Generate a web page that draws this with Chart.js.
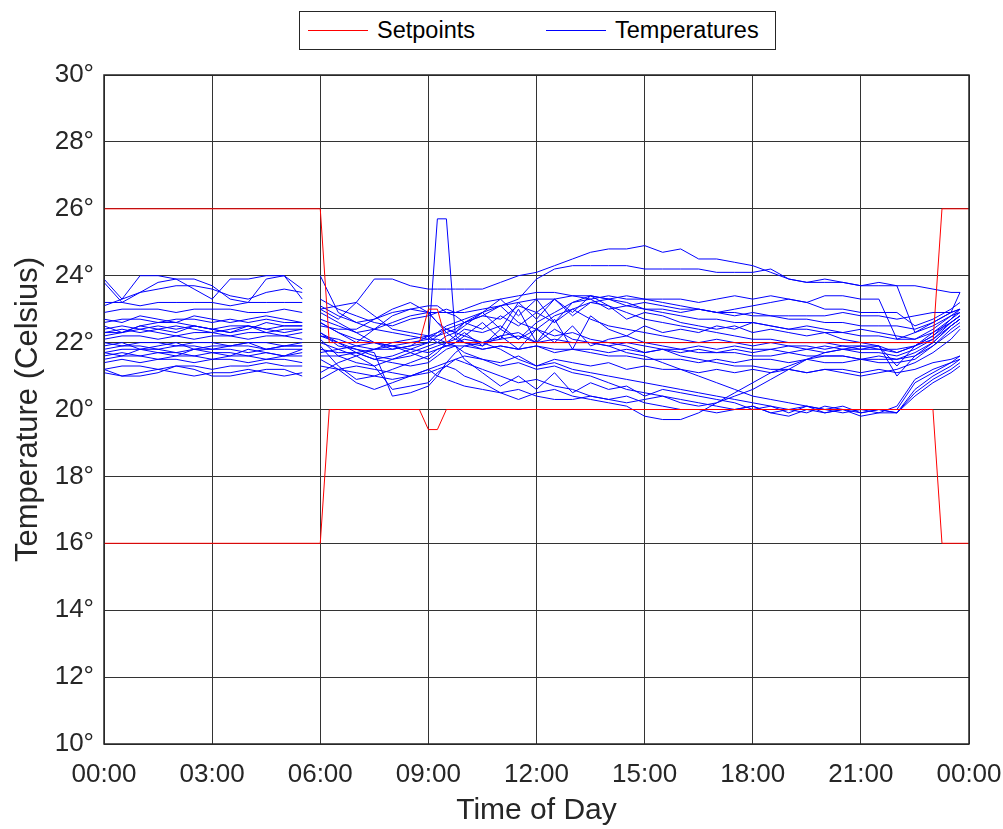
<!DOCTYPE html>
<html>
<head>
<meta charset="utf-8">
<script src="https://cdn.jsdelivr.net/npm/chart.js@4/dist/chart.umd.min.js"></script>
<style>
  body { margin: 0; background: #fff; }
  #wrap { position: relative; width: 1003px; height: 829px; }
  #legend {
    position: absolute; left: 299px; top: 11px; width: 475px; height: 37px;
    border: 1px solid #262626; background: #fff;
    font-family: "Liberation Sans", Arial, sans-serif; font-size: 23.5px; color: #000;
  }
  #legend .line { position: absolute; top: 18px; width: 60px; height: 1px; }
  #legend .txt { position: absolute; top: 5px; line-height: 27px; }
</style>
</head>
<body>
<div id="wrap">
  <canvas id="chart" width="1003" height="829"></canvas>
  <div id="legend">
    <div class="line" style="left: 8px; background: #ff0000;"></div>
    <div class="txt" style="left: 77px;">Setpoints</div>
    <div class="line" style="left: 246px; background: #0000ff;"></div>
    <div class="txt" style="left: 315px;">Temperatures</div>
  </div>
</div>
<script>
// hours of the day for the logged temperatures (night block, then day block)
const nightHours = [0, 0.5, 1, 1.5, 2, 2.5, 3, 3.5, 4, 4.5, 5, 5.5];
const dayHours = [6, 6.5, 7, 7.5, 8, 8.5, 9, 9.25, 9.5, 9.75, 10, 10.5, 11, 11.5, 12, 12.5, 13, 13.5,
  14, 14.5, 15, 15.5, 16, 16.5, 17, 17.5, 18, 18.5, 19, 19.5, 20, 20.5, 21, 21.5, 22, 22.5, 23, 23.5, 23.75];

// setpoints
const setpointHours = [0, 6, 6.25, 8.75, 9, 9.25, 9.5, 23, 23.25, 24];
const setpointUpper = [26, 26, 22, 22, 23, 23, 22, 22, 26, 26];
const setpointLower = [16, 16, 20, 20, 19.4, 19.4, 20, 20, 16, 16];

const hourTicks = [0, 3, 6, 9, 12, 15, 18, 21, 24];
const tempTicks = [10, 12, 14, 16, 18, 20, 22, 24, 26, 28, 30];

// zone temperatures: 12 night values, then 39 day values
const temp01 = [23.9, 23.3, 24.0, 24.0, 23.9, 23.6, 23.3, 23.9, 23.9, 24.0, 24.0, 23.3,
  23.0, 22.7, 23.2, 23.9, 23.9, 23.7, 23.6, 23.6, 23.6, 23.6, 23.6, 23.6, 23.8, 24.0, 24.1, 24.3, 24.5, 24.7, 24.8, 24.8, 24.9, 24.7, 24.8, 24.5, 24.5, 24.4, 24.3, 24.1, 23.9, 23.8, 23.9, 23.8, 23.7, 23.8, 23.7, 22.3, 22.6, 22.9, 23.5];
const temp02 = [23.8, 23.2, 23.5, 23.8, 23.9, 23.9, 23.7, 23.3, 23.2, 23.9, 24.0, 23.6,
  22.6, 22.3, 22.0, 22.4, 22.6, 22.8, 22.9, 22.9, 22.9, 22.9, 22.9, 23.0, 23.1, 23.3, 23.9, 24.2, 24.3, 24.3, 24.3, 24.3, 24.2, 24.2, 24.2, 24.2, 24.1, 24.1, 24.1, 24.2, 23.9, 23.8, 23.8, 23.8, 23.7, 23.7, 23.7, 23.7, 23.6, 23.5, 23.5];
const temp03 = [23.1, 23.3, 23.5, 23.6, 23.7, 23.7, 23.6, 23.4, 23.3, 23.5, 23.6, 23.5,
  23.3, 23.0, 22.8, 22.6, 22.5, 22.7, 22.8, 22.9, 23.0, 22.9, 23.0, 23.2, 23.3, 23.4, 23.5, 23.5, 23.4, 23.4, 23.3, 23.4, 23.3, 23.3, 23.3, 23.2, 23.3, 23.4, 23.3, 23.4, 23.3, 23.2, 23.0, 23.0, 22.9, 22.9, 22.9, 22.5, 22.7, 23.0, 23.2];
const temp04 = [23.2, 23.2, 23.1, 23.2, 23.2, 23.2, 23.2, 23.1, 23.2, 23.2, 23.2, 23.2,
  24.0, 22.9, 22.6, 22.4, 22.3, 22.2, 22.1, 22.3, 22.5, 22.6, 22.7, 22.9, 23.1, 23.2, 23.3, 23.3, 23.4, 23.3, 23.4, 23.3, 23.3, 23.2, 23.1, 23.0, 22.9, 22.9, 22.8, 22.8, 22.7, 22.7, 22.6, 22.6, 22.5, 22.5, 22.5, 22.4, 22.6, 22.9, 23.0];
const temp05 = [22.9, 23.0, 23.0, 23.0, 22.9, 23.0, 23.0, 23.0, 22.9, 22.9, 23.0, 22.9,
  23.0, 23.1, 23.2, 22.8, 22.4, 22.3, 22.2, 22.2, 22.3, 22.4, 22.6, 22.8, 22.7, 23.1, 22.9, 23.3, 22.8, 23.2, 23.3, 23.1, 23.0, 23.0, 22.9, 23.0, 22.9, 22.8, 22.9, 22.8, 22.8, 22.8, 22.8, 22.9, 22.8, 22.8, 22.7, 22.8, 22.9, 22.9, 23.0];
const temp06 = [22.6, 22.7, 22.7, 22.6, 22.7, 22.7, 22.6, 22.7, 22.6, 22.7, 22.6, 22.6,
  22.7, 22.5, 22.3, 22.0, 21.8, 21.9, 22.2, 22.0, 21.9, 22.0, 22.2, 22.6, 22.1, 23.0, 22.0, 22.7, 21.8, 22.8, 22.4, 22.2, 22.5, 22.3, 22.4, 22.3, 22.5, 22.4, 22.6, 22.5, 22.4, 22.5, 22.4, 22.3, 22.4, 22.3, 22.2, 22.1, 22.4, 22.8, 22.9];
const temp07 = [22.4, 22.5, 22.4, 22.5, 22.4, 22.5, 22.4, 22.5, 22.5, 22.4, 22.5, 22.5,
  22.5, 22.4, 22.4, 22.7, 23.0, 23.2, 22.9, 22.6, 22.3, 22.1, 22.0, 21.9, 22.4, 22.1, 22.6, 22.9, 23.2, 23.4, 23.3, 23.2, 23.0, 22.9, 22.8, 22.7, 22.7, 22.6, 22.6, 22.5, 22.4, 22.4, 22.3, 22.3, 22.2, 22.2, 22.1, 22.1, 22.3, 22.6, 22.8];
const temp08 = [22.3, 22.4, 22.3, 22.4, 22.5, 22.4, 22.3, 22.4, 22.5, 22.3, 22.4, 22.4,
  22.3, 22.0, 21.7, 21.5, 21.6, 21.8, 22.0, 22.2, 22.4, 22.5, 22.6, 22.4, 22.8, 22.5, 22.9, 22.6, 23.0, 22.7, 22.5, 22.4, 22.3, 22.2, 22.1, 22.0, 22.1, 22.0, 21.9, 22.0, 21.9, 21.9, 21.8, 21.9, 21.8, 21.8, 21.8, 21.9, 22.1, 22.5, 22.7];
const temp09 = [22.3, 22.3, 22.4, 22.3, 22.2, 22.3, 22.3, 22.2, 22.3, 22.3, 22.2, 22.3,
  22.2, 22.1, 21.9, 21.8, 21.8, 21.9, 22.0, 25.7, 25.7, 22.2, 22.0, 21.8, 21.9, 21.8, 21.9, 21.7, 21.8, 21.7, 21.6, 21.6, 21.5, 21.5, 21.5, 21.4, 21.5, 21.4, 21.5, 21.5, 21.4, 21.5, 21.4, 21.4, 21.5, 21.4, 21.4, 21.5, 21.9, 22.4, 22.6];
const temp10 = [22.1, 22.2, 22.2, 22.1, 22.2, 22.1, 22.2, 22.2, 22.1, 22.2, 22.2, 22.1,
  22.1, 21.6, 21.4, 21.3, 21.5, 21.7, 21.9, 22.0, 22.2, 22.3, 22.6, 22.9, 22.4, 23.2, 22.7, 23.3, 22.9, 23.4, 23.1, 22.7, 22.9, 22.8, 22.6, 22.5, 22.4, 22.5, 22.3, 22.4, 22.3, 22.2, 22.3, 22.1, 22.0, 21.9, 21.0, 21.6, 22.0, 22.5, 22.7];
const temp11 = [22.0, 21.9, 22.0, 22.0, 21.9, 22.0, 22.0, 21.9, 22.0, 22.0, 21.9, 22.0,
  22.3, 21.9, 21.8, 21.7, 20.4, 20.5, 20.7, 21.0, 21.4, 21.7, 21.9, 22.0, 22.1, 22.2, 22.0, 22.1, 22.0, 22.0, 21.9, 22.0, 21.9, 21.8, 21.8, 21.7, 21.7, 21.7, 21.6, 21.6, 21.7, 21.6, 21.6, 21.6, 21.5, 21.5, 21.5, 21.6, 21.9, 22.3, 22.5];
const temp12 = [21.8, 21.9, 21.9, 21.8, 21.9, 21.9, 21.8, 21.9, 21.9, 21.8, 21.9, 21.9,
  22.0, 21.8, 21.6, 21.3, 20.6, 20.7, 20.8, 21.1, 21.3, 21.5, 21.6, 21.5, 21.4, 21.6, 21.3, 21.5, 21.4, 21.3, 21.4, 21.2, 21.3, 21.2, 21.2, 21.1, 21.2, 21.1, 21.2, 21.1, 21.2, 21.1, 21.2, 21.2, 21.1, 21.2, 21.1, 21.2, 21.4, 21.5, 21.6];
const temp13 = [21.7, 21.8, 21.8, 21.8, 21.7, 21.8, 21.8, 21.8, 21.7, 21.8, 21.8, 21.8,
  21.8, 21.7, 21.7, 21.8, 21.9, 22.0, 22.1, 22.1, 22.0, 21.9, 21.9, 21.8, 21.9, 21.8, 21.9, 21.8, 21.8, 21.8, 21.7, 21.8, 21.7, 21.8, 21.7, 21.8, 21.7, 21.8, 21.7, 21.8, 21.7, 21.8, 21.7, 21.8, 21.7, 21.7, 21.6, 21.8, 22.1, 22.6, 22.8];
const temp14 = [21.6, 21.7, 21.6, 21.7, 21.7, 21.6, 21.7, 21.7, 21.6, 21.7, 21.6, 21.7,
  21.7, 21.8, 21.9, 22.0, 21.9, 21.8, 21.7, 21.8, 21.9, 22.0, 22.1, 22.0, 22.2, 22.3, 22.0, 22.4, 22.1, 22.0, 21.9, 21.7, 21.6, 21.4, 21.2, 21.0, 20.8, 20.6, 20.4, 20.3, 20.2, 20.1, 20.0, 20.1, 19.9, 20.0, 19.9, 20.6, 21.0, 21.3, 21.5];
const temp15 = [21.5, 21.6, 21.6, 21.5, 21.6, 21.6, 21.5, 21.6, 21.6, 21.5, 21.6, 21.6,
  21.6, 21.6, 21.7, 21.5, 21.4, 21.3, 21.4, 21.6, 21.8, 21.9, 21.7, 21.5, 21.3, 21.4, 21.2, 21.3, 21.1, 21.0, 20.8, 20.6, 20.5, 20.4, 20.3, 20.2, 20.1, 20.0, 20.1, 19.9, 20.0, 19.9, 20.1, 20.0, 19.9, 20.0, 19.9, 20.5, 20.9, 21.2, 21.4];
const temp16 = [21.4, 21.5, 21.4, 21.5, 21.5, 21.4, 21.5, 21.5, 21.4, 21.5, 21.5, 21.4,
  21.5, 21.2, 20.8, 20.6, 20.8, 21.0, 21.1, 21.2, 21.3, 21.2, 21.0, 20.8, 20.5, 20.3, 20.5, 20.6, 20.4, 20.3, 20.2, 20.1, 19.8, 19.7, 19.7, 19.9, 20.2, 20.5, 20.8, 21.1, 21.3, 21.5, 21.6, 21.6, 21.5, 21.6, 21.5, 21.7, 22.0, 22.5, 22.7];
const temp17 = [21.2, 21.3, 21.3, 21.2, 21.3, 21.3, 21.2, 21.3, 21.3, 21.4, 21.3, 21.3,
  21.3, 21.2, 21.1, 21.0, 20.9, 21.0, 21.2, 21.3, 21.4, 21.5, 21.4, 21.2, 21.0, 20.8, 20.9, 20.7, 20.6, 20.4, 20.3, 20.4, 20.2, 20.1, 20.0, 20.0, 19.9, 20.0, 20.1, 19.9, 19.8, 20.0, 19.9, 20.0, 19.8, 19.9, 19.9, 20.4, 20.8, 21.1, 21.3];
const temp18 = [21.1, 21.0, 21.1, 21.2, 21.1, 21.0, 21.1, 21.1, 21.2, 21.1, 21.0, 21.1,
  21.1, 21.4, 21.6, 21.8, 22.0, 22.1, 22.2, 22.3, 22.4, 22.3, 22.2, 22.0, 21.8, 21.5, 21.3, 21.4, 21.2, 21.1, 21.0, 20.9, 20.8, 20.7, 20.6, 20.5, 20.4, 20.3, 20.2, 20.1, 20.0, 20.1, 20.0, 19.9, 20.0, 20.0, 20.0, 20.8, 21.1, 21.4, 21.6];
const temp19 = [21.2, 21.0, 21.0, 21.1, 21.3, 21.2, 21.0, 21.0, 21.1, 21.2, 21.2, 21.0,
  20.9, 21.2, 21.3, 21.2, 21.1, 21.0, 21.2, 21.0, 20.9, 20.8, 20.7, 20.6, 20.5, 20.6, 20.4, 20.3, 20.3, 20.4, 20.3, 20.2, 20.3, 20.4, 20.2, 20.1, 20.2, 20.4, 20.6, 20.9, 21.2, 21.5, 21.7, 21.8, 21.8, 21.9, 21.7, 21.9, 22.2, 22.6, 22.8];
const temp20 = [22.5, 22.3, 22.5, 22.4, 22.3, 22.5, 22.4, 22.3, 22.5, 22.4, 22.3, 22.4,
  23.1, 22.8, 22.6, 22.7, 22.9, 23.0, 23.1, 23.1, 22.9, 22.8, 22.6, 22.8, 23.1, 22.6, 22.4, 22.8, 23.0, 23.2, 23.1, 22.9, 22.7, 22.6, 22.5, 22.4, 22.3, 22.2, 22.1, 22.1, 22.0, 22.0, 22.0, 21.9, 21.9, 21.9, 21.3, 21.9, 22.2, 22.7, 23.0];
const temp21 = [21.9, 22.0, 21.8, 21.9, 22.0, 21.8, 21.9, 21.9, 22.0, 21.8, 21.9, 21.9,
  22.9, 22.6, 22.3, 22.4, 22.8, 23.0, 22.9, 22.6, 22.4, 22.3, 22.5, 22.9, 23.3, 22.8, 23.3, 22.6, 23.2, 23.3, 23.0, 23.1, 23.2, 23.1, 23.0, 23.0, 22.9, 23.0, 23.1, 23.2, 23.3, 23.2, 23.4, 23.4, 23.3, 23.3, 22.1, 22.3, 22.5, 22.8, 23.0];
const temp22 = [22.7, 22.6, 22.8, 22.7, 22.6, 22.8, 22.7, 22.6, 22.7, 22.8, 22.7, 22.6,
  22.2, 22.0, 21.8, 21.6, 21.5, 21.6, 21.8, 21.9, 22.0, 22.1, 22.3, 21.9, 22.2, 21.8, 22.4, 22.0, 22.5, 21.9, 22.1, 22.2, 22.0, 21.9, 21.8, 21.9, 21.8, 21.9, 21.8, 21.8, 21.9, 21.8, 21.9, 21.8, 21.9, 21.8, 21.7, 21.9, 22.3, 22.7, 22.9];
const temp23 = [22.2, 22.3, 22.5, 22.6, 22.6, 22.5, 22.4, 22.3, 22.4, 22.6, 22.5, 22.5,
  21.9, 21.3, 20.9, 21.0, 21.2, 21.4, 21.6, 21.8, 21.9, 21.9, 21.5, 21.1, 20.7, 21.0, 20.6, 21.1, 20.5, 20.8, 20.6, 20.7, 20.4, 20.6, 20.5, 20.4, 20.3, 20.2, 20.0, 20.1, 19.9, 20.1, 19.9, 20.0, 20.0, 19.9, 20.1, 20.9, 21.2, 21.4, 21.5];
const temp24 = [21.7, 21.6, 21.8, 21.7, 21.6, 21.8, 21.7, 21.6, 21.8, 21.7, 21.6, 21.8,
  22.6, 22.3, 22.1, 22.0, 21.9, 21.7, 21.5, 21.7, 22.0, 22.2, 22.4, 22.3, 22.5, 22.1, 22.4, 22.2, 22.3, 22.1, 22.0, 21.9, 21.7, 21.8, 21.6, 21.5, 21.4, 21.3, 21.3, 21.2, 21.2, 21.1, 21.2, 21.1, 21.0, 21.1, 21.2, 21.4, 21.7, 22.1, 22.4];

const temperatureSeries = [temp01, temp02, temp03, temp04, temp05, temp06, temp07, temp08,
  temp09, temp10, temp11, temp12, temp13, temp14, temp15, temp16, temp17, temp18, temp19,
  temp20, temp21, temp22, temp23, temp24];

const FONT = "'Liberation Sans', Arial, sans-serif";
const TEXT = "#262626";

function toPoints(values) {
  const pts = nightHours.map((h, i) => ({ x: h, y: values[i] }));
  pts.push({ x: 5.75, y: null }); // logger gap before 06:00
  dayHours.forEach((h, i) => pts.push({ x: h, y: values[nightHours.length + i] }));
  return pts;
}

function formatHour(value) {
  return String(value % 24).padStart(2, "0") + ":00";
}

const setpointSets = [setpointUpper, setpointLower].map((vals) => ({
  label: "Setpoints",
  data: setpointHours.map((h, i) => ({ x: h, y: vals[i] })),
  borderColor: "#ff0000",
  borderWidth: 1,
}));

const temperatureSets = temperatureSeries.map((vals) => ({
  label: "Temperatures",
  data: toPoints(vals),
  borderColor: "#0000ff",
  borderWidth: 1,
}));

const plotFrame = {
  id: "plotFrame",
  afterDraw(chart) {
    const { ctx, chartArea: a } = chart;
    ctx.save();
    ctx.strokeStyle = TEXT;
    ctx.lineWidth = 1.5;
    ctx.strokeRect(a.left, a.top, a.right - a.left, a.bottom - a.top);
    ctx.restore();
  },
};

new Chart(document.getElementById("chart"), {
  type: "line",
  data: { datasets: setpointSets.concat(temperatureSets) },
  options: {
    responsive: false,
    animation: false,
    spanGaps: false,
    elements: { point: { radius: 0 }, line: { tension: 0 } },
    layout: { padding: { top: 75, right: 34, left: 0, bottom: 0 } },
    plugins: { legend: { display: false }, tooltip: { enabled: false } },
    scales: {
      x: {
        type: "linear",
        min: 0,
        max: 24,
        afterBuildTicks: (scale) => { scale.ticks = hourTicks.map((v) => ({ value: v })); },
        afterFit: (scale) => {
          scale.height = 85;
          scale.paddingLeft = 0;
          scale.paddingRight = 0;
        },
        ticks: {
          callback: formatHour,
          color: TEXT,
          font: { family: FONT, size: 26 },
          padding: 15,
          maxRotation: 0,
        },
        grid: { color: "#333333", lineWidth: 1, drawTicks: false },
        border: { display: false },
        title: {
          display: true,
          text: "Time of Day",
          color: TEXT,
          font: { family: FONT, size: 30 },
          padding: { top: 0, bottom: 0 },
        },
      },
      y: {
        min: 10,
        max: 30,
        afterBuildTicks: (scale) => { scale.ticks = tempTicks.map((v) => ({ value: v })); },
        afterFit: (scale) => { scale.width = 104; },
        ticks: {
          callback: (v) => v + "°",
          color: TEXT,
          font: { family: FONT, size: 26 },
          padding: 10,
        },
        grid: { color: "#333333", lineWidth: 1, drawTicks: false },
        border: { display: false },
        title: {
          display: true,
          text: "Temperature (Celsius)",
          color: TEXT,
          font: { family: FONT, size: 31 },
          padding: { top: 10, bottom: 0 },
        },
      },
    },
  },
  plugins: [plotFrame],
});
</script>
</body>
</html>
